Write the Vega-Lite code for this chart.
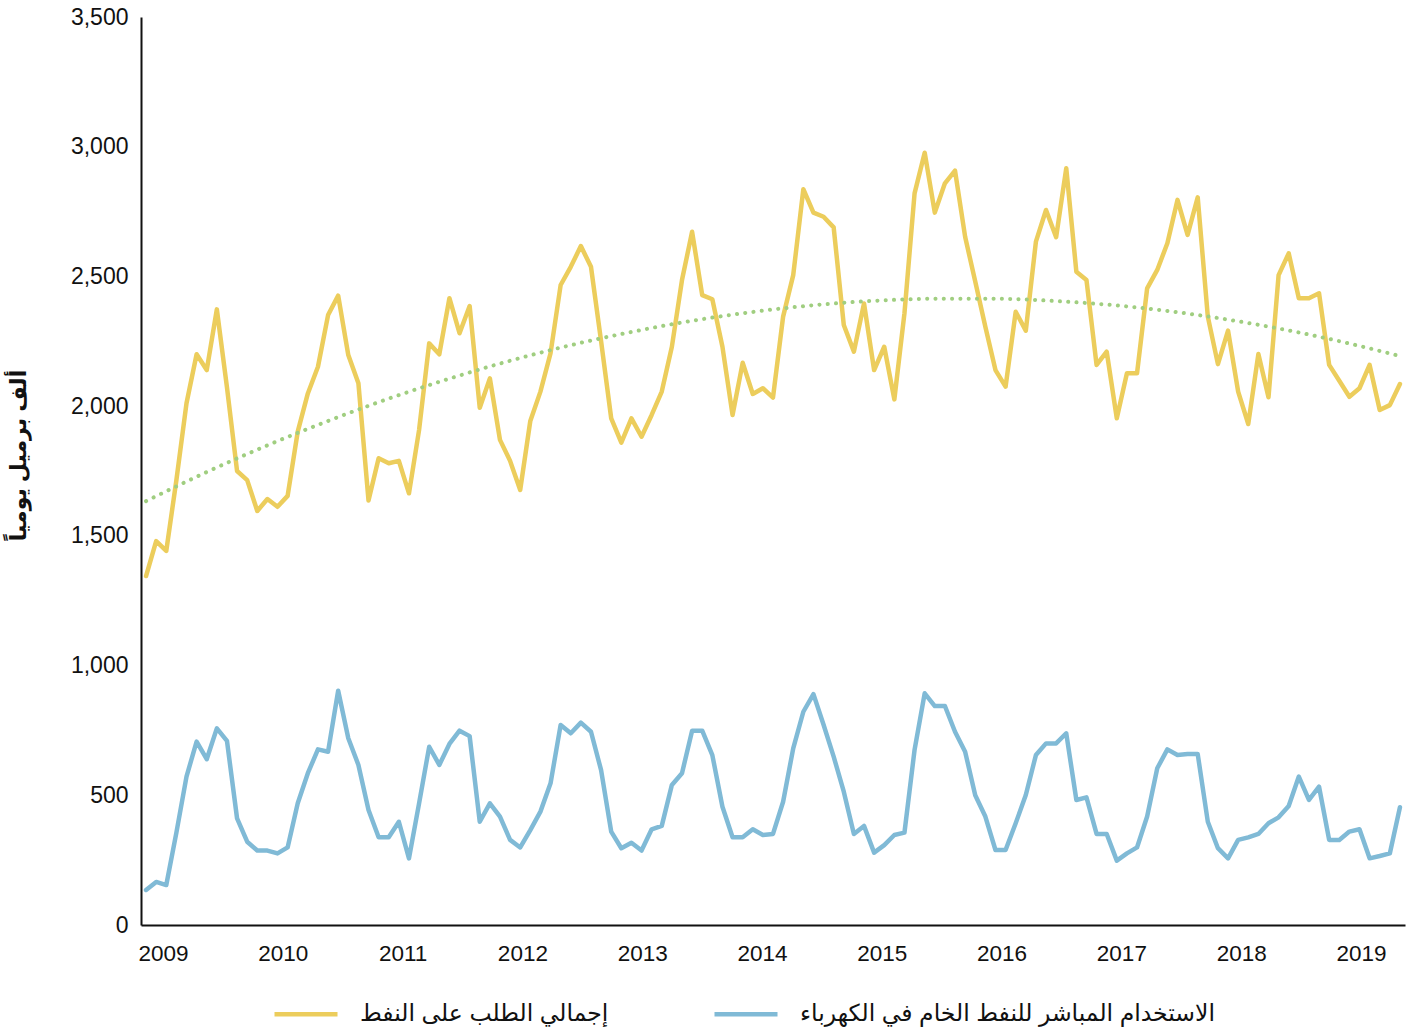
{
  "$schema": "https://vega.github.io/schema/vega-lite/v6.json",
  "width": 1264,
  "height": 908,
  "autosize": {"type": "none"},
  "padding": {"left": 141, "top": 17, "right": 19, "bottom": 110},
  "background": "white",
  "config": {"view": {"stroke": null}, "font": "Liberation Sans, DejaVu Sans"},
  "datasets": {
    "monthly": [
      {"i":0,"month":"2009-01","total":1345,"crude":135},
      {"i":1,"month":"2009-02","total":1480,"crude":166},
      {"i":2,"month":"2009-03","total":1442,"crude":154},
      {"i":3,"month":"2009-04","total":1715,"crude":356},
      {"i":4,"month":"2009-05","total":2011,"crude":572},
      {"i":5,"month":"2009-06","total":2200,"crude":707},
      {"i":6,"month":"2009-07","total":2139,"crude":639},
      {"i":7,"month":"2009-08","total":2373,"crude":758},
      {"i":8,"month":"2009-09","total":2073,"crude":710},
      {"i":9,"month":"2009-10","total":1750,"crude":411},
      {"i":10,"month":"2009-11","total":1715,"crude":321},
      {"i":11,"month":"2009-12","total":1596,"crude":287},
      {"i":12,"month":"2010-01","total":1642,"crude":287},
      {"i":13,"month":"2010-02","total":1612,"crude":276},
      {"i":14,"month":"2010-03","total":1654,"crude":299},
      {"i":15,"month":"2010-04","total":1902,"crude":469},
      {"i":16,"month":"2010-05","total":2049,"crude":585},
      {"i":17,"month":"2010-06","total":2152,"crude":677},
      {"i":18,"month":"2010-07","total":2351,"crude":668},
      {"i":19,"month":"2010-08","total":2426,"crude":903},
      {"i":20,"month":"2010-09","total":2197,"crude":720},
      {"i":21,"month":"2010-10","total":2088,"crude":617},
      {"i":22,"month":"2010-11","total":1636,"crude":443},
      {"i":23,"month":"2010-12","total":1799,"crude":338},
      {"i":24,"month":"2011-01","total":1780,"crude":338},
      {"i":25,"month":"2011-02","total":1789,"crude":398},
      {"i":26,"month":"2011-03","total":1664,"crude":257},
      {"i":27,"month":"2011-04","total":1908,"crude":469},
      {"i":28,"month":"2011-05","total":2242,"crude":687},
      {"i":29,"month":"2011-06","total":2200,"crude":617},
      {"i":30,"month":"2011-07","total":2416,"crude":698},
      {"i":31,"month":"2011-08","total":2281,"crude":749},
      {"i":32,"month":"2011-09","total":2386,"crude":728},
      {"i":33,"month":"2011-10","total":1994,"crude":398},
      {"i":34,"month":"2011-11","total":2107,"crude":469},
      {"i":35,"month":"2011-12","total":1870,"crude":418},
      {"i":36,"month":"2012-01","total":1789,"crude":328},
      {"i":37,"month":"2012-02","total":1677,"crude":299},
      {"i":38,"month":"2012-03","total":1943,"crude":366},
      {"i":39,"month":"2012-04","total":2056,"crude":437},
      {"i":40,"month":"2012-05","total":2204,"crude":546},
      {"i":41,"month":"2012-06","total":2467,"crude":771},
      {"i":42,"month":"2012-07","total":2537,"crude":739},
      {"i":43,"month":"2012-08","total":2617,"crude":780},
      {"i":44,"month":"2012-09","total":2537,"crude":745},
      {"i":45,"month":"2012-10","total":2250,"crude":597},
      {"i":46,"month":"2012-11","total":1953,"crude":360},
      {"i":47,"month":"2012-12","total":1859,"crude":296},
      {"i":48,"month":"2013-01","total":1953,"crude":317},
      {"i":49,"month":"2013-02","total":1882,"crude":287},
      {"i":50,"month":"2013-03","total":1966,"crude":369},
      {"i":51,"month":"2013-04","total":2056,"crude":382},
      {"i":52,"month":"2013-05","total":2229,"crude":540},
      {"i":53,"month":"2013-06","total":2486,"crude":585},
      {"i":54,"month":"2013-07","total":2672,"crude":749},
      {"i":55,"month":"2013-08","total":2428,"crude":749},
      {"i":56,"month":"2013-09","total":2412,"crude":655},
      {"i":57,"month":"2013-10","total":2229,"crude":456},
      {"i":58,"month":"2013-11","total":1966,"crude":338},
      {"i":59,"month":"2013-12","total":2167,"crude":338},
      {"i":60,"month":"2014-01","total":2047,"crude":369},
      {"i":61,"month":"2014-02","total":2069,"crude":347},
      {"i":62,"month":"2014-03","total":2033,"crude":351},
      {"i":63,"month":"2014-04","total":2345,"crude":475},
      {"i":64,"month":"2014-05","total":2505,"crude":681},
      {"i":65,"month":"2014-06","total":2836,"crude":822},
      {"i":66,"month":"2014-07","total":2746,"crude":890},
      {"i":67,"month":"2014-08","total":2730,"crude":772},
      {"i":68,"month":"2014-09","total":2689,"crude":649},
      {"i":69,"month":"2014-10","total":2313,"crude":514},
      {"i":70,"month":"2014-11","total":2210,"crude":351},
      {"i":71,"month":"2014-12","total":2396,"crude":382},
      {"i":72,"month":"2015-01","total":2139,"crude":279},
      {"i":73,"month":"2015-02","total":2229,"crude":308},
      {"i":74,"month":"2015-03","total":2026,"crude":347},
      {"i":75,"month":"2015-04","total":2358,"crude":356},
      {"i":76,"month":"2015-05","total":2820,"crude":675},
      {"i":77,"month":"2015-06","total":2977,"crude":893},
      {"i":78,"month":"2015-07","total":2746,"crude":844},
      {"i":79,"month":"2015-08","total":2859,"crude":844},
      {"i":80,"month":"2015-09","total":2908,"crude":745},
      {"i":81,"month":"2015-10","total":2653,"crude":668},
      {"i":82,"month":"2015-11","total":2480,"crude":500},
      {"i":83,"month":"2015-12","total":2306,"crude":418},
      {"i":84,"month":"2016-01","total":2139,"crude":289},
      {"i":85,"month":"2016-02","total":2075,"crude":289},
      {"i":86,"month":"2016-03","total":2364,"crude":392},
      {"i":87,"month":"2016-04","total":2291,"crude":501},
      {"i":88,"month":"2016-05","total":2634,"crude":655},
      {"i":89,"month":"2016-06","total":2756,"crude":700},
      {"i":90,"month":"2016-07","total":2651,"crude":700},
      {"i":91,"month":"2016-08","total":2917,"crude":739},
      {"i":92,"month":"2016-09","total":2518,"crude":482},
      {"i":93,"month":"2016-10","total":2486,"crude":492},
      {"i":94,"month":"2016-11","total":2159,"crude":351},
      {"i":95,"month":"2016-12","total":2210,"crude":351},
      {"i":96,"month":"2017-01","total":1953,"crude":248},
      {"i":97,"month":"2017-02","total":2127,"crude":276},
      {"i":98,"month":"2017-03","total":2127,"crude":299},
      {"i":99,"month":"2017-04","total":2454,"crude":418},
      {"i":100,"month":"2017-05","total":2525,"crude":604},
      {"i":101,"month":"2017-06","total":2628,"crude":677},
      {"i":102,"month":"2017-07","total":2795,"crude":655},
      {"i":103,"month":"2017-08","total":2660,"crude":659},
      {"i":104,"month":"2017-09","total":2805,"crude":659},
      {"i":105,"month":"2017-10","total":2345,"crude":398},
      {"i":106,"month":"2017-11","total":2162,"crude":296},
      {"i":107,"month":"2017-12","total":2291,"crude":257},
      {"i":108,"month":"2018-01","total":2056,"crude":328},
      {"i":109,"month":"2018-02","total":1931,"crude":338},
      {"i":110,"month":"2018-03","total":2201,"crude":351},
      {"i":111,"month":"2018-04","total":2034,"crude":392},
      {"i":112,"month":"2018-05","total":2505,"crude":415},
      {"i":113,"month":"2018-06","total":2589,"crude":459},
      {"i":114,"month":"2018-07","total":2416,"crude":572},
      {"i":115,"month":"2018-08","total":2416,"crude":482},
      {"i":116,"month":"2018-09","total":2435,"crude":533},
      {"i":117,"month":"2018-10","total":2159,"crude":328},
      {"i":118,"month":"2018-11","total":2098,"crude":328},
      {"i":119,"month":"2018-12","total":2036,"crude":360},
      {"i":120,"month":"2019-01","total":2069,"crude":369},
      {"i":121,"month":"2019-02","total":2159,"crude":257},
      {"i":122,"month":"2019-03","total":1985,"crude":266},
      {"i":123,"month":"2019-04","total":2004,"crude":276},
      {"i":124,"month":"2019-05","total":2085,"crude":454}
    ],
    "trend": [
      {"i":0,"trend":1634},{"i":6,"trend":1746},{"i":12,"trend":1849},{"i":18,"trend":1943},
      {"i":24,"trend":2029},{"i":30,"trend":2106},{"i":36,"trend":2175},{"i":42,"trend":2235},
      {"i":48,"trend":2286},{"i":54,"trend":2329},{"i":60,"trend":2363},{"i":66,"trend":2389},
      {"i":72,"trend":2406},{"i":78,"trend":2414},{"i":84,"trend":2414},{"i":90,"trend":2405},
      {"i":96,"trend":2388},{"i":102,"trend":2362},{"i":108,"trend":2327},{"i":114,"trend":2284},
      {"i":120,"trend":2232},{"i":124,"trend":2193}
    ]
  },
  "layer": [
    {
      "data": {"name": "monthly"},
      "transform": [{"fold": ["total", "crude"], "as": ["series", "value"]}],
      "mark": {"type": "line", "strokeWidth": 4.5, "strokeJoin": "round", "strokeCap": "round"},
      "encoding": {
        "x": {
          "field": "i", "type": "quantitative",
          "scale": {"domain": [-0.5, 124.5], "nice": false, "zero": false},
          "axis": {
            "values": [1.676, 13.523, 25.37, 37.217, 49.064, 60.911, 72.758, 84.605, 96.452, 108.299, 120.146],
            "labelExpr": "toString(2009 + round((datum.value - 1.676) / 11.847))",
            "title": null, "grid": false, "ticks": false,
            "domainColor": "#111111", "domainWidth": 2,
            "labelFontSize": 22.5, "labelColor": "#111111", "labelPadding": 17,
            "labelFlush": false, "labelOverlap": false
          }
        },
        "y": {
          "field": "value", "type": "quantitative",
          "scale": {"domain": [0, 3500], "nice": false},
          "axis": {
            "values": [0, 500, 1000, 1500, 2000, 2500, 3000, 3500],
            "format": ",.0f", "grid": false, "ticks": false,
            "domainColor": "#111111", "domainWidth": 2,
            "labelFontSize": 23, "labelColor": "#111111", "labelPadding": 13,
            "title": "ألف برميل يومياً",
            "titleFontSize": 22, "titleFontWeight": "bold", "titleColor": "#111111",
            "titleAngle": -90, "titleAlign": "center", "titleBaseline": "middle",
            "titleX": -123, "titleY": 438
          }
        },
        "color": {
          "field": "series", "type": "nominal",
          "scale": {"domain": ["total", "crude"], "range": ["#ECCD5C", "#80BAD6"]},
          "legend": {
            "orient": "none", "direction": "horizontal",
            "legendX": 131, "legendY": 963,
            "title": null, "padding": 0,
            "symbolType": "stroke", "symbolSize": 3969, "symbolStrokeWidth": 4.5,
            "labelFontSize": 23.5, "labelColor": "#111111", "labelOffset": 20,
            "columnPadding": 96, "labelLimit": 600,
            "labelExpr": "datum.value == 'total' ? 'إجمالي الطلب على النفط' : 'الاستخدام المباشر للنفط الخام في الكهرباء'"
          }
        }
      }
    },
    {
      "data": {"name": "trend"},
      "mark": {"type": "line", "color": "#A0CE80", "strokeWidth": 4, "strokeCap": "round", "strokeDash": [0.1, 8.2], "interpolate": "monotone"},
      "encoding": {
        "x": {"field": "i", "type": "quantitative"},
        "y": {"field": "trend", "type": "quantitative"}
      }
    }
  ]
}
